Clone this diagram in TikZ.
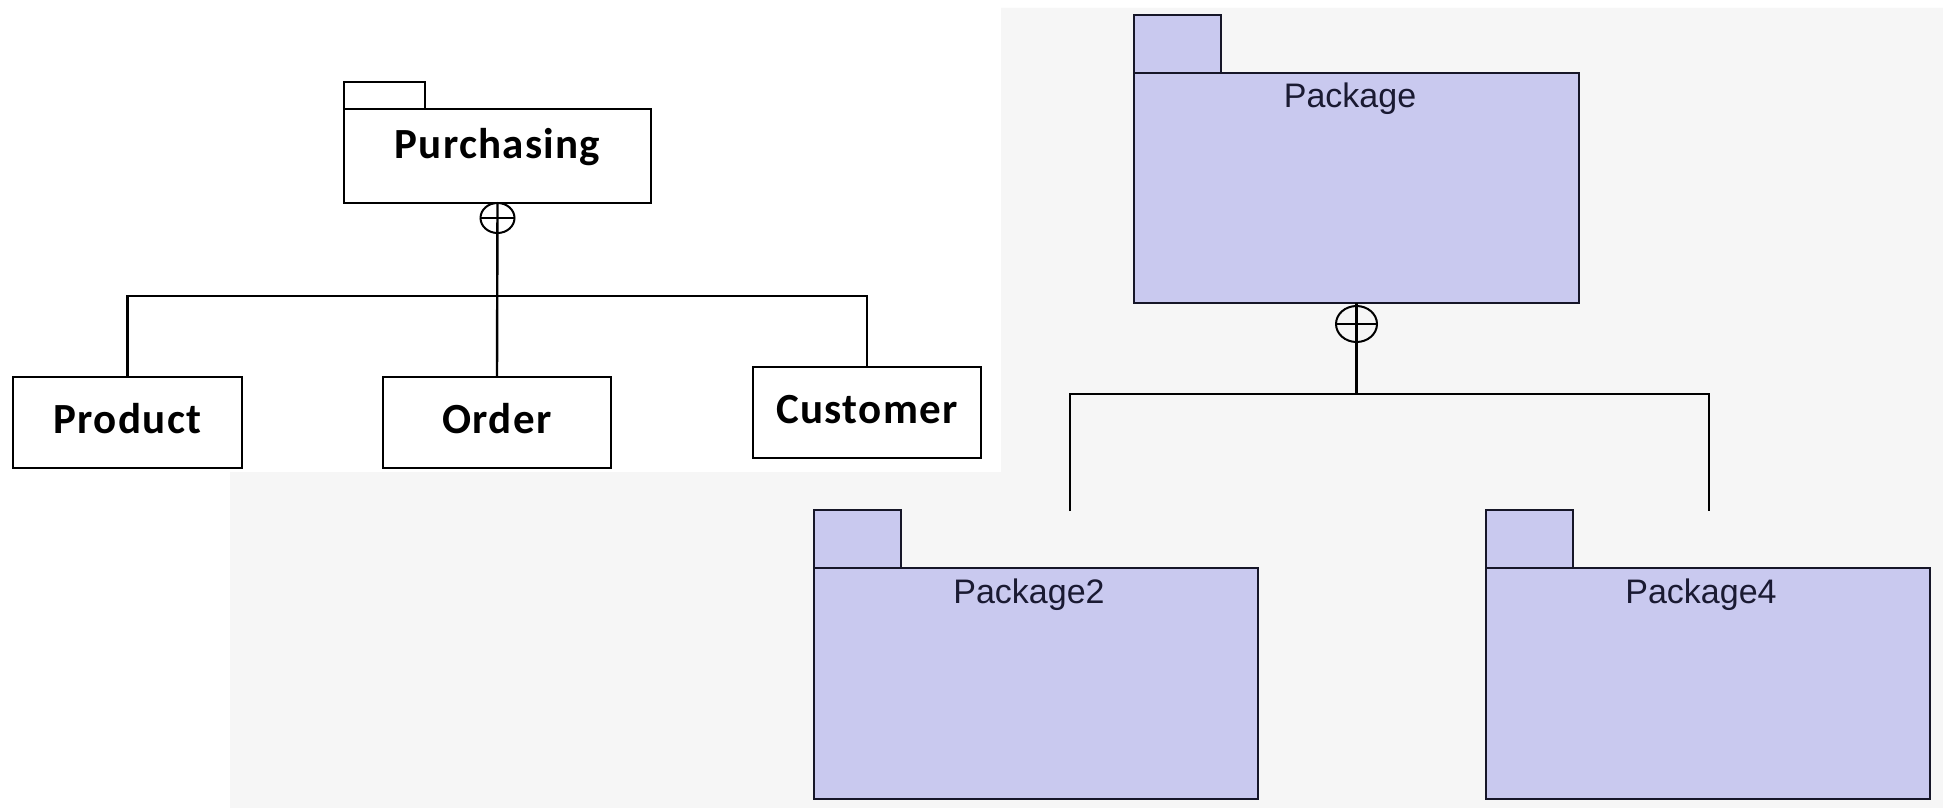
\documentclass[tikz,border=0pt]{standalone}
\usepackage{fontspec}
\setmainfont{Liberation Sans}
\newfontfamily\umlfont[LetterSpace=3]{Carlito}
\usetikzlibrary{shapes.geometric}
\definecolor{pkgfill}{RGB}{201,201,239}
\definecolor{bggray}{RGB}{246,246,246}
\definecolor{pkgline}{RGB}{22,22,40}
\definecolor{pkgtext}{RGB}{26,26,50}
\begin{document}
\begin{tikzpicture}[x=1pt,y=-1pt,
  classbox/.style={draw=black, line width=2.6pt, fill=white, inner sep=0pt, outer sep=0pt, anchor=north west},
  classtab/.style={draw=black, line width=2.2pt, fill=white, inner sep=0pt, outer sep=0pt, anchor=south west, minimum width=81pt, minimum height=27pt},
  pkgbox/.style={draw=pkgline, line width=2.8pt, fill=pkgfill, inner sep=0pt, outer sep=0pt, anchor=north west},
  pkgtab/.style={draw=pkgline, line width=2.8pt, fill=pkgfill, inner sep=0pt, outer sep=0pt, anchor=south west, minimum width=87pt, minimum height=58pt},
  classlbl/.style={font=\umlfont\bfseries\fontsize{43}{48}\selectfont, text=black, inner sep=0pt, anchor=base},
  pkglbl/.style={font=\fontsize{34}{38}\selectfont, text=pkgtext, inner sep=0pt, anchor=base},
  conn/.style={draw=black, line width=2.4pt},
  pkgconn/.style={draw=black, line width=2.8pt},
  nest/.style={ellipse, draw=black, line width=2pt, inner sep=0pt, outer sep=0pt}
]
\useasboundingbox (0,0) rectangle (1943,808);
\fill[white] (0,0) rectangle (1943,808);
\fill[bggray] (1001,8) -- (1943,8) -- (1943,808) -- (230,808) -- (230,472) -- (1001,472) -- cycle;

% ---------- left diagram ----------
\node[classbox, minimum width=307pt, minimum height=94pt] (purch) at (344,109) {};
\node[classtab] (purchtab) at (purch.north west) {};
\node[classlbl] (purchtxt) at (497.5,158) {Purchasing};

\node[classbox, minimum width=229pt, minimum height=91pt] (prod) at (13,377) {};
\node[classlbl] (prodtxt) at (prod.center |- 0,433) {Product};
\node[classbox, minimum width=228pt, minimum height=91pt] (order) at (383,377) {};
\node[classlbl] (ordertxt) at (order.center |- 0,433) {Order};
\node[classbox, minimum width=228pt, minimum height=91pt] (cust) at (753,367) {};
\node[classlbl] (custtxt) at (cust.center |- 0,423) {Customer};

\node[nest, minimum width=34pt, minimum height=30pt] (c1) at (497.5,218) {};
\coordinate (j1) at (497.5,296);
\draw[conn] (purch.south) -- (order.north);
\draw[conn] (c1.west) -- (c1.east);
\draw[conn] (prod.north) |- (j1) -| (cust.north);

% ---------- right diagram ----------
\node[pkgbox, minimum width=445pt, minimum height=230pt] (pkg) at (1134,73) {};
\node[pkgtab] (pkgtab) at (pkg.north west) {};
\node[pkglbl] (pkgtxt) at (1350,107) {Package};

\node[pkgbox, minimum width=444pt, minimum height=231pt] (pkgtwo) at (814,568) {};
\node[pkgtab] (pkgtwotab) at (pkgtwo.north west) {};
\node[pkglbl] (pkgtwotxt) at (1029,603) {Package2};

\node[pkgbox, minimum width=444pt, minimum height=231pt] (pkgfour) at (1486,568) {};
\node[pkgtab] (pkgfourtab) at (pkgfour.north west) {};
\node[pkglbl] (pkgfourtxt) at (1701,603) {Package4};

\node[nest, minimum width=41pt, minimum height=36pt] (c2) at (1356.5,324) {};
\coordinate (j2) at (1356.5,394);
\coordinate (d2) at (1070,511);
\coordinate (d4) at (1709,511);
\draw[pkgconn] (pkg.south) -- (j2);
\draw[pkgconn] (c2.west) -- (c2.east);
\draw[pkgconn] (d2) |- (j2) -| (d4);
\end{tikzpicture}
\end{document}
